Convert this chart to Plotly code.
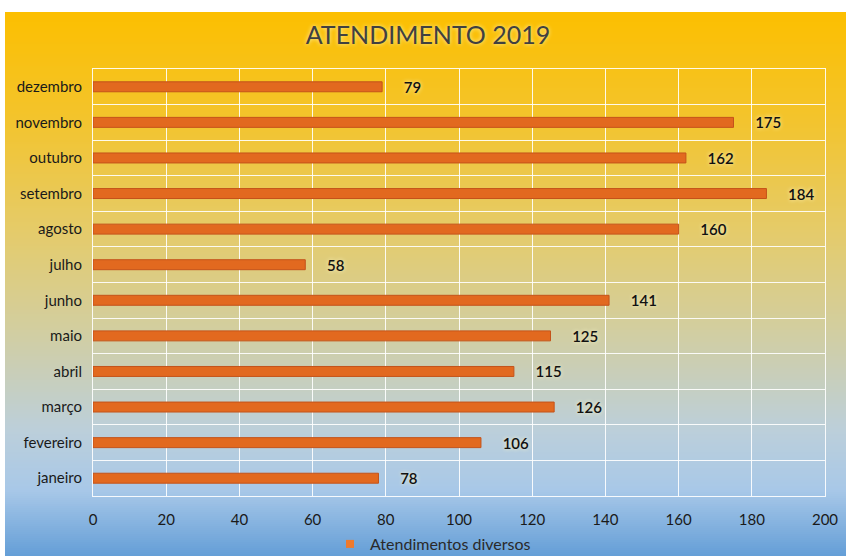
import plotly.graph_objects as go

# data
months = ['janeiro', 'fevereiro', 'março', 'abril', 'maio', 'junho',
          'julho', 'agosto', 'setembro', 'outubro', 'novembro', 'dezembro']
atendimentos = [78, 106, 126, 115, 125, 141, 58, 160, 184, 162, 175, 79]
x_ticks = [0, 20, 40, 60, 80, 100, 120, 140, 160, 180, 200]
series_name = 'Atendimentos diversos'

W, H = 846, 556
L, R, T, B = 93, 21, 69, 60
plot_w, plot_h = W - L - R, H - T - B

FONT = 'Lato'


def px_to_paper_x(px):
    return (px - L) / plot_w


def px_to_paper_y(py):
    return (H - B - py) / plot_h


# background gradient stops (pixel y, rgb)
stops = [(12, (252, 191, 0)), (120, (243, 196, 45)), (230, (229, 203, 105)),
         (330, (210, 206, 160)), (430, (188, 207, 218)), (490, (168, 200, 232)),
         (556, (100, 158, 215))]


def color_at(py):
    for (y0, c0), (y1, c1) in zip(stops, stops[1:]):
        if y0 <= py <= y1:
            t = (py - y0) / (y1 - y0)
            return 'rgb(%d,%d,%d)' % tuple(round(a + (b - a) * t) for a, b in zip(c0, c1))
    return 'rgb(%d,%d,%d)' % stops[-1][1]


shapes = []
step = 2
for py in range(12, H, step):
    shapes.append(dict(type='rect', xref='paper', yref='paper', layer='below',
                       x0=px_to_paper_x(5), x1=px_to_paper_x(W + 2),
                       y0=px_to_paper_y(min(py + step + 0.5, H + 2)), y1=px_to_paper_y(py),
                       fillcolor=color_at(py + step / 2), line_width=0))

fig = go.Figure()

fig.add_trace(go.Bar(
    x=atendimentos,
    y=list(range(len(months))),
    orientation='h',
    width=0.28,
    name=series_name,
    showlegend=False,
    marker=dict(color='#E2691F', line=dict(color='#C4531A', width=1)),
    text=atendimentos,
    texttemplate='     %{x}',
    textposition='outside',
    constraintext='none',
    cliponaxis=False,
    textfont=dict(family=FONT, size=15, color='#111111', weight=600,
                  shadow='0px 0px 4px #fff6c8'),
))

# legend entry with the small square key used in the original
fig.add_trace(go.Scatter(
    x=[None], y=[None], mode='markers', name=series_name,
    marker=dict(symbol='square', size=8, color='#EE7A2E'),
))

fig.update_layout(
    width=W, height=H,
    margin=dict(l=L, r=R, t=T, b=B, autoexpand=False),
    paper_bgcolor='white',
    plot_bgcolor='rgba(0,0,0,0)',
    shapes=shapes,
    title=dict(text='ATENDIMENTO 2019', x=(305 + 551) / 2 / W, xanchor='center',
               y=1 - 35 / H, yanchor='middle',
               font=dict(family=FONT, size=25, color='#404040',
                         shadow='0px 0px 4px #fff3b0')),
    showlegend=True,
    legend=dict(orientation='h', xref='container', x=433 / W, xanchor='center',
                yref='container', y=1 - 544 / H, yanchor='middle',
                bgcolor='rgba(0,0,0,0)', itemwidth=30,
                font=dict(family=FONT, size=16, color='#2a2a2a')),
    font=dict(family=FONT),
)

fig.update_xaxes(
    range=[0, 200], tickvals=x_ticks, showgrid=True, gridcolor='rgba(255,255,255,0.9)',
    gridwidth=1, zeroline=False, showline=True, linecolor='rgba(255,255,255,0.9)',
    mirror=True, ticks='', ticklabelstandoff=10, automargin=False,
    tickfont=dict(family=FONT, size=15, color='#1a1a1a'),
)

fig.update_yaxes(
    range=[-0.5, len(months) - 0.5], tickvals=list(range(len(months))), ticktext=months,
    showgrid=False, zeroline=False, showline=True, linecolor='rgba(255,255,255,0.9)',
    mirror=True, ticks='', ticklabelstandoff=7, automargin=False,
    minor=dict(tick0=0.5, dtick=1, showgrid=True, gridcolor='rgba(255,255,255,0.9)',
               gridwidth=1),
    tickfont=dict(family=FONT, size=15, color='#1a1a1a'),
)

# remove the default page margin so the figure sits at the window origin
fig.write_html('out.html', config={'displayModeBar': False},
               post_script="document.body.style.margin='0';")
